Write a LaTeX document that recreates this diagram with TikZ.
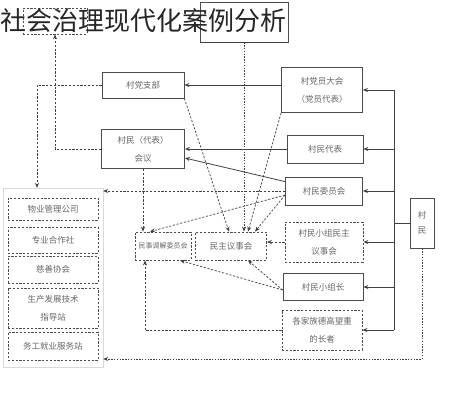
\documentclass[tikz,border=0pt]{standalone}
\usepackage{fontspec}
\newfontfamily\cjk{Noto Sans CJK SC}
\usetikzlibrary{arrows.meta, positioning}

\begin{document}
\begin{tikzpicture}[
    x=1pt, y=-1pt,
    boks/.style = {rectangle, draw=black!70, line width=0.8pt, inner sep=0pt,
      align=center, text=black!60, font=\cjk\fontsize{8.5}{18}\selectfont},
    stipboks/.style = {boks, dash pattern=on 2.2pt off 1.6pt},
    linje/.style = {black!75, line width=0.8pt},
    pil/.style = {linje, -{Stealth[length=5pt,width=4pt]}},
    stippil/.style = {pil, line width=0.7pt, dash pattern=on 2.2pt off 1.6pt},
    prikkpil/.style = {pil, line width=0.7pt, dash pattern=on 1.4pt off 1.4pt}
    ]

  \useasboundingbox (0,0) rectangle (458,400);

  % top boxes behind the title
  \node[stipboks, minimum width=64pt, minimum height=26pt] (oben1) at (55,21) {};
  \node[boks, minimum width=88pt, minimum height=40pt] (oben2) at (244,22) {};
  \draw[line width=1.3pt, black!75] (oben2.south west) -- (oben2.south east);

  % middle and right
  \node[boks, minimum width=82pt, minimum height=26pt] (zhibu) at (143,85) {村党支部};
  \node[boks, minimum width=83pt, minimum height=39pt] (huiyi) at (143,149) {村民（代表）\\会议};
  \node[boks, minimum width=81pt, minimum height=45pt] (dangyuan) at (322,90) {村党员大会\\（党员代表）};
  \node[boks, minimum width=76pt, minimum height=28pt] (daibiao) at (325,149) {村民代表};
  \node[boks, minimum width=77pt, minimum height=28pt] (weihui) at (324,191) {村民委员会};
  \node[stipboks, minimum width=78pt, minimum height=40pt] (yishi) at (324,242) {村民小组民主\\议事会};
  \node[boks, minimum width=80pt, minimum height=27pt] (zuzhang) at (323,287) {村民小组长};
  \node[stipboks, minimum width=80pt, minimum height=40pt] (zhangzhe) at (322,330) {各家族德高望重\\的长者};
  \node[boks, minimum width=24pt, minimum height=50pt,
    font=\cjk\fontsize{8.5}{15}\selectfont] (cunmin) at (422,223) {村\\民};

  \node[stipboks, minimum width=56pt, minimum height=28pt,
    font=\cjk\fontsize{7}{9}\selectfont] (tiaojie) at (163,246) {民事调解委员会};
  \node[stipboks, minimum width=71pt, minimum height=28pt] (minzhu) at (231,246) {民主议事会};

  % left column
  \node[rectangle, draw=black!15, minimum width=100pt, minimum height=179pt] (spalte) at (53,277.5) {};
  \node[stipboks, minimum width=90pt, minimum height=22pt] (org1) at (53,209) {物业管理公司};
  \node[stipboks, minimum width=90pt, minimum height=26pt] (org2) at (53,240) {专业合作社};
  \node[stipboks, minimum width=90pt, minimum height=27pt] (org3) at (53,269.5) {慈善协会};
  \node[stipboks, minimum width=90pt, minimum height=40pt] (org4) at (53,308) {生产发展技术\\指导站};
  \node[stipboks, minimum width=90pt, minimum height=28pt] (org5) at (53,346) {务工就业服务站};

  % trunk on the right
  \coordinate (stamm) at (394,0);
  \coordinate (venstre) at (37,0);
  \coordinate (bunn) at (0,359);
  \draw[linje] (stamm |- dangyuan.east) -- (stamm |- zhangzhe.east);
  \draw[linje] (cunmin.west) -- (stamm |- cunmin.west);
  \draw[pil] (stamm |- dangyuan.east) -- (dangyuan.east);
  \draw[pil] (stamm |- daibiao.east) -- (daibiao.east);
  \draw[pil] (stamm |- weihui.east) -- (weihui.east);
  \draw[pil] (stamm |- yishi.east) -- (yishi.east);
  \draw[pil] (stamm |- zuzhang.east) -- (zuzhang.east);
  \draw[pil] (stamm |- zhangzhe.east) -- (zhangzhe.east);

  \draw[pil] (dangyuan.west |- zhibu) -- (zhibu.east);
  \draw[pil] (daibiao.west) -- (huiyi.east);
  \draw[pil] ([yshift=-5pt]weihui.north west) -- ([yshift=-9pt]huiyi.east);

  % dashed links
  \draw[stippil] (zhibu.west) -| (venstre |- spalte.north);
  \draw[stippil] (huiyi.west) -| (oben1.south);
  \draw[stippil] (weihui.west) -- (weihui.west -| spalte.east);
  \draw[prikkpil] (cunmin.south) |- (spalte.east |- bunn);
  \draw[prikkpil] (oben2.south) -- (oben2.south |- minzhu.north);

  \draw[stippil] (huiyi.south) -- (huiyi.south |- tiaojie.north);
  \draw[stippil] (zhibu.south east) -- ([xshift=-2pt]minzhu.north);
  \draw[stippil] (dangyuan.south west) -- ([xshift=17pt]minzhu.north);
  \draw[stippil] ([yshift=-4pt]weihui.west) -- ([xshift=24pt]minzhu.north);
  \draw[stippil] ([yshift=-4pt]weihui.west) -- ([xshift=-13pt]tiaojie.north);
  \draw[stippil] (yishi.west) -- (yishi.west -| minzhu.east);
  \draw[stippil] ([yshift=-3pt]zuzhang.west) -- ([xshift=17pt]minzhu.south);
  \draw[stippil] ([yshift=-3pt]zuzhang.west) -- ([xshift=17pt]tiaojie.south);
  \draw[stippil] (zhangzhe.west) -| ([xshift=-18pt]tiaojie.south);

  % title over everything
  \node[anchor=west, inner sep=0pt, text=black!85,
    font=\cjk\fontsize{26}{26}\selectfont] (titel) at (0,21) {社会治理现代化案例分析};

\end{tikzpicture}
\end{document}
